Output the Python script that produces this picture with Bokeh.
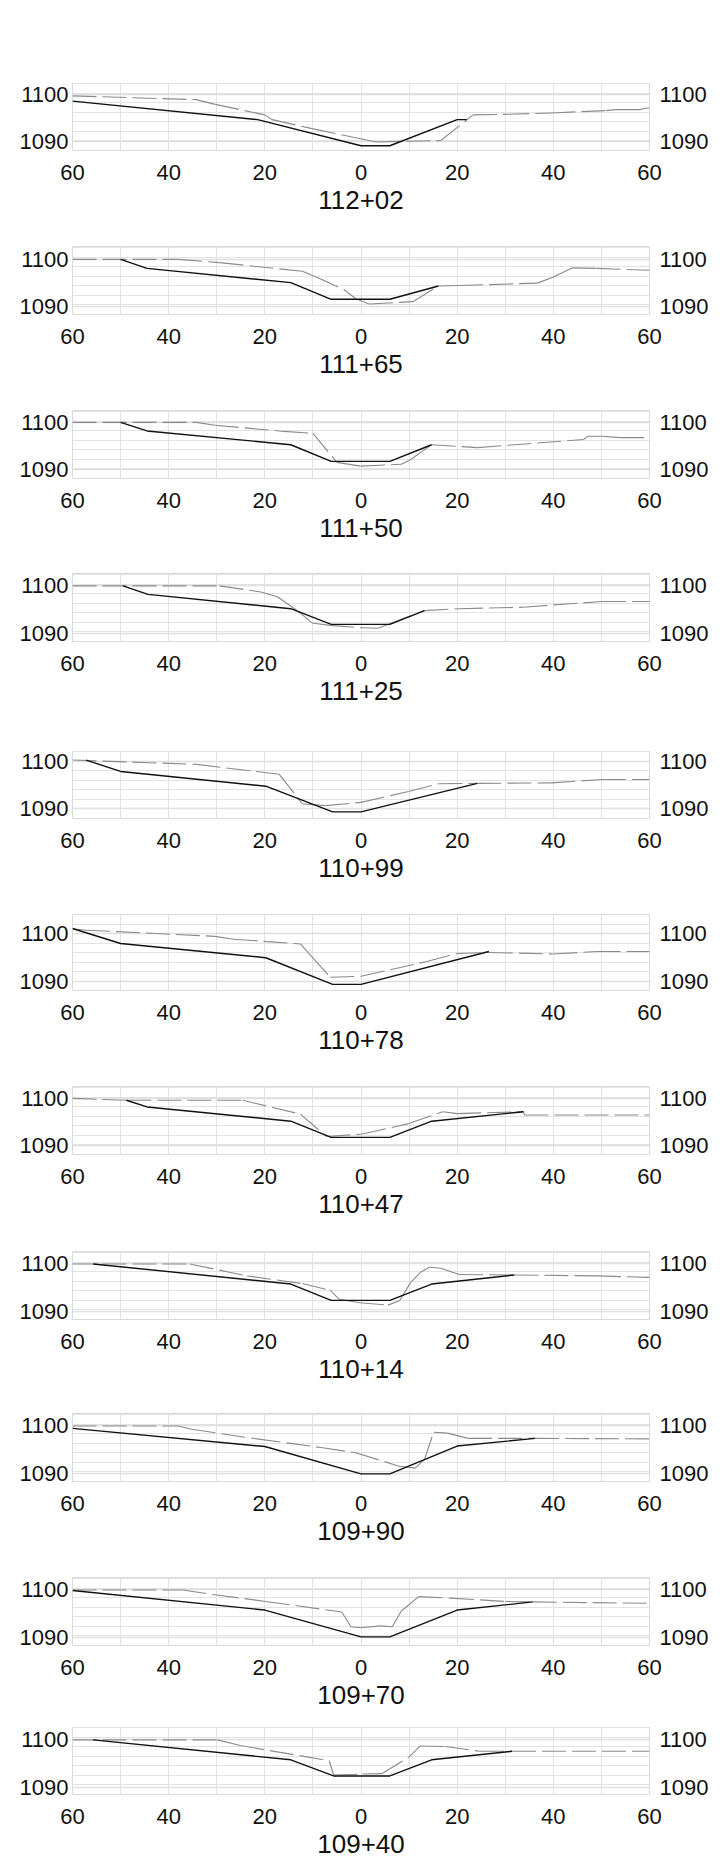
from bokeh.plotting import figure
from bokeh.layouts import column
from bokeh.models import FixedTicker, LinearAxis, Range1d
from bokeh.embed import file_html
from bokeh.resources import INLINE

# ---------------- data ----------------
STATIONS = ["112+02", "111+65", "111+50", "111+25", "110+99", "110+78",
            "110+47", "110+14", "109+90", "109+70", "109+40"]

X_TICKS = [-60, -40, -20, 0, 20, 40, 60]
X_TICK_LABELS = ["60", "40", "20", "0", "20", "40", "60"]
X_GRID = [-60, -50, -40, -30, -20, -10, 0, 10, 20, 30, 40, 50, 60]
Y_TICKS = [1090, 1100]

# elevation window of each section
Y_LOW = [1088.2, 1088.4, 1088.2, 1088.3, 1087.9, 1088.0, 1088.2, 1088.4, 1088.3, 1088.4, 1088.5]
Y_HIGH = [1102.3, 1102.7, 1102.5, 1102.6, 1102.0, 1104.0, 1102.5, 1102.6, 1102.5, 1102.6, 1102.6]

# proposed section (black) and ground (grey dashed), offset ft / elevation ft
PROP_11202_X = [-60, -21.5, 0, 6, 20, 22]
PROP_11202_Y = [1098.6, 1094.7, 1089.2, 1089.2, 1094.7, 1094.7]
GRND_11202_X = [-60, -34.3, -30.3, -20, -18.5, -10.2, -1.6, 3.2, 16.6, 23.3, 30, 39.6, 51, 52.9, 57.8, 60]
GRND_11202_Y = [1099.7, 1098.9, 1097.9, 1095.7, 1094.7, 1092.8, 1091.0, 1090.0, 1090.3, 1095.7, 1095.8, 1096.1, 1096.6, 1096.8, 1096.8, 1097.2]

PROP_11165_X = [-50, -44.5, -14.6, -6.2, 6, 16.1]
PROP_11165_Y = [1100.0, 1098.1, 1095.1, 1091.6, 1091.6, 1094.4]
GRND_11165_X = [-60, -38, -29.4, -12.2, -9.3, -3.5, -1.1, 1.7, 10.8, 16.1, 20.4, 36.7, 40, 43.9, 49, 60]
GRND_11165_Y = [1100, 1100, 1099.3, 1097.5, 1096.3, 1093.6, 1091.7, 1090.6, 1091.1, 1094.4, 1094.5, 1095.0, 1096.3, 1098.2, 1098.1, 1097.7]

PROP_11150_X = [-50, -44.5, -14.6, -6.2, 6, 14.7]
PROP_11150_Y = [1100, 1098.2, 1095.3, 1091.8, 1091.8, 1095.3]
GRND_11150_X = [-60, -34.2, -30.4, -16, -10, -5, 0, 8.4, 10.2, 14.7, 24.2, 46.3, 47.2, 50.1, 53.9, 60]
GRND_11150_Y = [1100, 1100, 1099.4, 1098.1, 1097.7, 1091.6, 1090.8, 1091.2, 1092.1, 1095.3, 1094.7, 1096.4, 1097.1, 1097.1, 1096.8, 1096.8]

PROP_11125_X = [-49.5, -44.3, -14.6, -6.2, 6, 13.2]
PROP_11125_Y = [1100, 1098.2, 1095.2, 1091.9, 1091.9, 1094.8]
GRND_11125_X = [-60, -29.4, -20.8, -17.4, -13.1, -10.2, -6.4, 0, 3.6, 5.8, 13.2, 20.4, 33.8, 40, 50.1, 60]
GRND_11125_Y = [1100, 1100, 1098.7, 1097.7, 1094.7, 1092.2, 1091.7, 1091.2, 1091.1, 1092.0, 1094.8, 1095.2, 1095.5, 1096.0, 1096.7, 1096.7]

PROP_11099_X = [-57.2, -50, -19.8, -5.9, 0, 24.2]
PROP_11099_Y = [1100.2, 1097.8, 1094.7, 1089.3, 1089.3, 1095.3]
GRND_11099_X = [-60, -34.2, -17, -12.2, -7.4, 0, 9.9, 16.1, 24.2, 39.6, 50.1, 60]
GRND_11099_Y = [1100.2, 1099.3, 1097.2, 1091.0, 1090.6, 1091.3, 1093.6, 1095.2, 1095.3, 1095.4, 1096.1, 1096.1]

PROP_11078_X = [-60, -50, -19.8, -5.9, 0, 26.6]
PROP_11078_Y = [1101.05, 1097.9, 1094.9, 1089.3, 1089.3, 1096.2]
GRND_11078_X = [-60, -57.2, -30.4, -26.5, -12.6, -10.2, -6.4, 0, 13.7, 20, 26.6, 40, 49, 60]
GRND_11078_Y = [1101.0, 1100.7, 1099.4, 1098.8, 1097.8, 1095.1, 1090.8, 1091.0, 1094.1, 1095.8, 1096.0, 1095.7, 1096.2, 1096.2]

PROP_11047_X = [-48.8, -44.5, -14.6, -6.2, 6, 14.7, 33.8]
PROP_11047_Y = [1099.6, 1098.2, 1095.2, 1091.8, 1091.8, 1095.2, 1097.2]
GRND_11047_X = [-60, -48.6, -24.6, -12.6, -7.2, 0.3, 9.9, 17, 20, 33.8, 34, 60]
GRND_11047_Y = [1100, 1099.6, 1099.6, 1096.7, 1092.0, 1092.5, 1094.7, 1097.2, 1096.8, 1097.2, 1096.5, 1096.5]

PROP_11014_X = [-55.7, -14.6, -6.2, 6, 14.7, 31.9]
PROP_11014_Y = [1100, 1095.8, 1092.4, 1092.4, 1095.8, 1097.7]
GRND_11014_X = [-60, -35.6, -23.7, -12.2, -6.4, -4.5, -0.2, 5.6, 8, 10.3, 12.3, 14.2, 16.6, 20.4, 31.9, 49.1, 60]
GRND_11014_Y = [1100, 1100, 1097.5, 1095.9, 1094.5, 1092.6, 1091.9, 1091.4, 1092.3, 1096.1, 1098.2, 1099.3, 1099.1, 1097.8, 1097.7, 1097.5, 1097.2]

PROP_10990_X = [-60, -20, 0, 6, 20, 36.2]
PROP_10990_Y = [1099.4, 1095.6, 1089.9, 1089.9, 1095.7, 1097.3]
GRND_10990_X = [-60, -38, -35.2, -21.7, -8.3, -1.1, 7.9, 11.3, 13.2, 15.1, 18, 22.3, 36.2, 60]
GRND_10990_Y = [1099.9, 1099.9, 1099.2, 1097.2, 1095.4, 1094.3, 1091.5, 1091.1, 1092.9, 1098.6, 1098.4, 1097.3, 1097.3, 1097.2]

PROP_10970_X = [-60, -20, 0, 6, 20, 35.7]
PROP_10970_Y = [1099.9, 1095.8, 1090.2, 1090.2, 1095.8, 1097.5]
GRND_10970_X = [-60, -37.1, -30.4, -19.8, -4, -2.1, 0, 4.1, 6.5, 8.4, 12, 18.5, 30, 35.7, 60]
GRND_10970_Y = [1100, 1100, 1099.0, 1097.6, 1095.4, 1092.3, 1092.1, 1092.5, 1092.3, 1095.6, 1098.6, 1098.3, 1097.6, 1097.5, 1097.2]

PROP_10940_X = [-55.7, -14.6, -5.7, 6, 14.7, 31.4]
PROP_10940_Y = [1100, 1095.8, 1092.4, 1092.4, 1095.8, 1097.6]
GRND_10940_X = [-60, -29.9, -25.1, -6.6, -5.7, 0.3, 4.4, 9.9, 12.3, 17.5, 24.7, 31.4, 60]
GRND_10940_Y = [1100, 1100, 1098.8, 1095.6, 1092.6, 1092.8, 1092.9, 1096.3, 1098.7, 1098.6, 1097.6, 1097.6, 1097.6]

SECTIONS = [
    (PROP_11202_X, PROP_11202_Y, GRND_11202_X, GRND_11202_Y),
    (PROP_11165_X, PROP_11165_Y, GRND_11165_X, GRND_11165_Y),
    (PROP_11150_X, PROP_11150_Y, GRND_11150_X, GRND_11150_Y),
    (PROP_11125_X, PROP_11125_Y, GRND_11125_X, GRND_11125_Y),
    (PROP_11099_X, PROP_11099_Y, GRND_11099_X, GRND_11099_Y),
    (PROP_11078_X, PROP_11078_Y, GRND_11078_X, GRND_11078_Y),
    (PROP_11047_X, PROP_11047_Y, GRND_11047_X, GRND_11047_Y),
    (PROP_11014_X, PROP_11014_Y, GRND_11014_X, GRND_11014_Y),
    (PROP_10990_X, PROP_10990_Y, GRND_10990_X, GRND_10990_Y),
    (PROP_10970_X, PROP_10970_Y, GRND_10970_X, GRND_10970_Y),
    (PROP_10940_X, PROP_10940_Y, GRND_10940_X, GRND_10940_Y),
]

# ---------------- layout ----------------
FRAME_TOPS = [83, 246, 410, 573, 751, 914, 1086, 1251, 1413, 1577, 1727]
FRAME_W = 577
PX_PER_FT = 4.78
PAGE_BOTTOM = 1859
GAP_TOP = 2

FONT = "Liberation Sans"
GRID_COLOR = "#e3e3e3"

figs = []
n = len(STATIONS)
for i in range(n):
    px, py, gx, gy = SECTIONS[i]
    ylo, yhi = Y_LOW[i], Y_HIGH[i]
    fh = int(round((yhi - ylo) * PX_PER_FT))
    top_b = FRAME_TOPS[0] if i == 0 else GAP_TOP
    if i < n - 1:
        bot_b = FRAME_TOPS[i + 1] - GAP_TOP - FRAME_TOPS[i] - fh
    else:
        bot_b = PAGE_BOTTOM - FRAME_TOPS[i] - fh
    p = figure(frame_width=FRAME_W, frame_height=fh,
               x_range=Range1d(-60, 60), y_range=Range1d(ylo, yhi),
               output_backend="svg", toolbar_location=None,
               min_border_left=72, min_border_right=71,
               min_border_top=top_b, min_border_bottom=bot_b)
    p.background_fill_color = "white"
    p.border_fill_color = "white"
    p.outline_line_color = "#dadada"
    p.outline_line_width = 1

    # grids
    p.xgrid.ticker = FixedTicker(ticks=X_GRID)
    p.xgrid.grid_line_color = GRID_COLOR
    minors = []
    v = ylo
    while v <= yhi + 1e-9:
        minors.append(round(v, 3))
        v += 2
    p.ygrid.ticker = FixedTicker(ticks=Y_TICKS, minor_ticks=minors)
    p.ygrid.grid_line_color = "#e0e0e0"
    p.ygrid.grid_line_width = 1.3
    p.ygrid.minor_grid_line_color = GRID_COLOR

    # x axis
    xa = p.xaxis[0]
    xa.ticker = FixedTicker(ticks=X_TICKS)
    xa.major_label_overrides = {t: l for t, l in zip(X_TICKS, X_TICK_LABELS)}
    xa.axis_label = STATIONS[i]
    xa.axis_label_text_font = FONT
    xa.axis_label_text_font_size = "26px"
    xa.axis_label_text_font_style = "normal"
    xa.axis_label_text_color = "#111111"
    xa.axis_label_standoff = 8
    xa.major_label_standoff = 14

    # y axes (left + right)
    ra = LinearAxis(y_range_name="default")
    p.add_layout(ra, "right")
    for ax in (p.yaxis[0], ra):
        ax.ticker = FixedTicker(ticks=Y_TICKS)
    p.yaxis[0].major_label_standoff = 4
    ra.major_label_standoff = 10
    for ax in (xa, p.yaxis[0], ra):
        ax.axis_line_color = None
        ax.major_tick_line_color = None
        ax.minor_tick_line_color = None
        ax.major_tick_out = 0
        ax.major_tick_in = 0
        ax.minor_tick_out = 0
        ax.minor_tick_in = 0
        ax.major_label_text_font = FONT
        ax.major_label_text_font_size = "22px"
        ax.major_label_text_color = "#111111"

    # ground line: dashes restart at every survey shot
    p.segment(x0=gx[:-1], y0=gy[:-1], x1=gx[1:], y1=gy[1:],
              line_color="#8a8a8a", line_width=1.1, line_dash="24 6")
    # proposed section
    p.line(px, py, line_color="#111111", line_width=1.4)
    figs.append(p)

layout = column(*figs, spacing=0)
open("out.html", "w").write(file_html(layout, INLINE))
